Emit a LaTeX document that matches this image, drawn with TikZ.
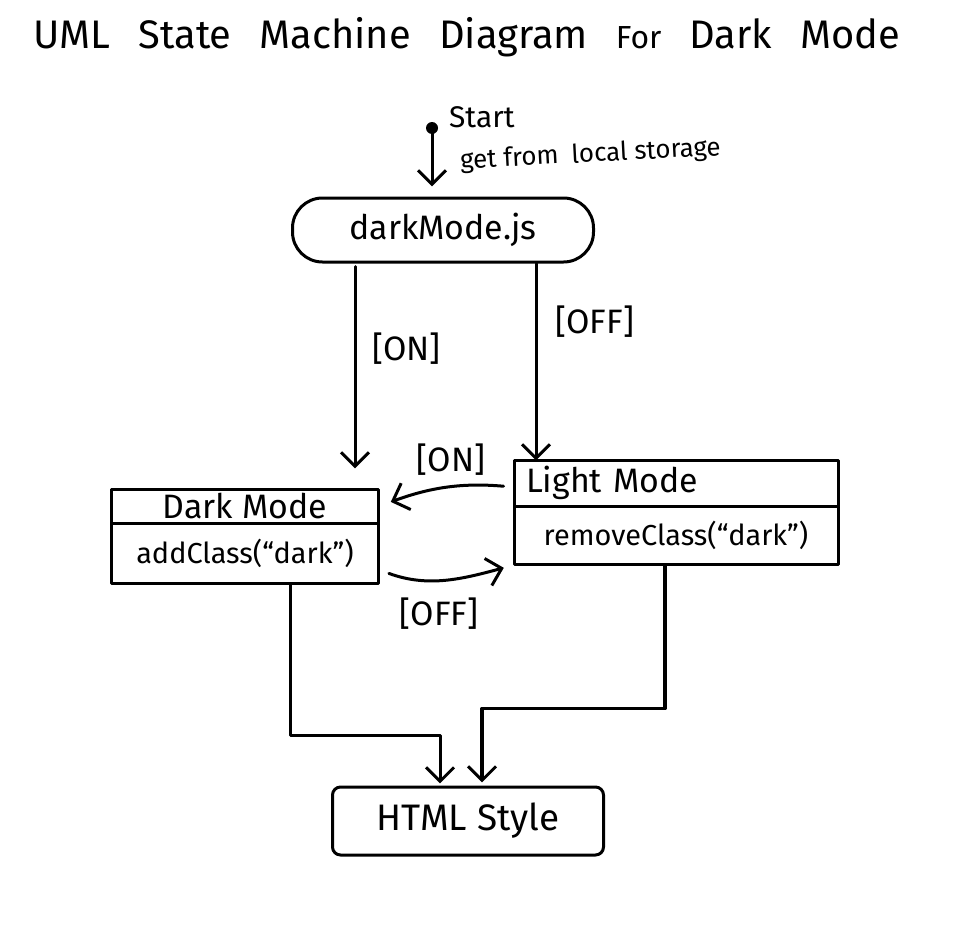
\documentclass[tikz,border=0pt]{standalone}
\usepackage{fontspec}
\setmainfont{Fira Sans}
\usetikzlibrary{arrows.meta,calc}
\tikzset{
  ln/.style={line width=3bp, line cap=round, line join=round},
  arr/.style={ln, -{Straight Barb[length=14bp,width=28bp,line width=3bp]}},
  boxpart/.style={draw, ln, rectangle, inner sep=4bp, anchor=center},
  lbl/.style={font=\fontsize{34}{38}\selectfont, inner sep=0pt},
}
\begin{document}
\begin{tikzpicture}[x=1bp,y=-1bp]
\useasboundingbox (0,0) rectangle (959,927);
\fill[white] (0,0) rectangle (959,927);

% title
\node[anchor=west, inner sep=0pt, font=\fontsize{40}{46}\selectfont] (title) at (33,37)
  {\makebox[867bp][s]{UML State Machine Diagram {\fontsize{32}{36}\selectfont For} Dark Mode}};

% start
\fill (432,128) circle (6);
\coordinate (start) at (432,128);
\node[anchor=west, inner sep=0pt, font=\fontsize{30}{34}\selectfont] (startlbl) at (449,117) {Start};

% darkMode.js
\node[boxpart, rounded corners=30bp, minimum width=301bp, minimum height=64bp,
      font=\fontsize{34}{38}\selectfont] (js) at (443,230) {darkMode.js};

% Dark Mode state
\node[boxpart, minimum width=266bp, minimum height=34bp,
      font=\fontsize{34}{38}\selectfont] (darkH) at (245,506) {Dark Mode};
\node[boxpart, minimum width=266bp, minimum height=60bp,
      font=\fontsize{29}{32}\selectfont] (darkB) at (245,553) {addClass(``dark'')};

% Light Mode state
\node[boxpart, minimum width=324bp, minimum height=46bp, text width=300bp, align=left,
      font=\fontsize{34}{38}\selectfont] (lightH) at (676,483) {Light Mode};
\node[boxpart, minimum width=324bp, minimum height=58bp,
      font=\fontsize{29}{32}\selectfont] (lightB) at (676,535) {removeClass(``dark'')};

% HTML Style
\node[boxpart, rounded corners=8bp, minimum width=271bp, minimum height=68bp,
      font=\fontsize{37}{40}\selectfont] (html) at (468,821) {HTML Style};

% helper points
\coordinate (jsL) at ($(js.south)+(-88,0)$);
\coordinate (jsR) at ($(js.south)+(93,0)$);
\coordinate (dkOut) at ($(darkB.south)+(45,0)$);
\coordinate (ltOut) at ($(lightB.south)+(-11,0)$);
\coordinate (inL) at ($(html.north)+(-28,0)$);
\coordinate (inR) at ($(html.north)+(14,0)$);

% start arrow
\draw[arr, shorten >=10bp] (start) -- (start |- js.north);
\node[anchor=west, rotate=3, font=\fontsize{26}{29}\selectfont, inner sep=0pt] (getlbl) at (460,162) {get from\enspace local storage};

% js -> dark / light
\draw[arr, shorten <=3bp, shorten >=19bp] (jsL) -- (jsL |- darkH.north)
  node[lbl, pos=0.38, right=16bp] (onlbl) {[ON]};
\draw[arr, shorten >=-2bp] (jsR) -- (jsR |- lightH.north)
  node[lbl, pos=0.3, right=18bp] (offlbl) {[OFF]};

% transitions between states
\draw[arr, shorten <=9bp, shorten >=12bp] ($(lightH.west)+(0,4)$) to[out=175, in=20]
  node[lbl, pos=0.45, above=10bp] (on2) {[ON]} (darkH.east);
\draw[arr, shorten <=10bp, shorten >=9bp] ($(darkB.east)+(0,17)$) to[out=-20, in=195]
  node[lbl, pos=0.45, below=16bp] (off2) {[OFF]} (lightB.south west);

% to HTML style
\draw[arr] (dkOut) |- ($(inL)+(0,-50)$) -- ($(inL)+(0,-2)$);
\draw[arr, line width=3.8bp] (ltOut) |- ($(inR)+(0,-77)$) -- ($(inR)+(0,-3)$);
\end{tikzpicture}
\end{document}
